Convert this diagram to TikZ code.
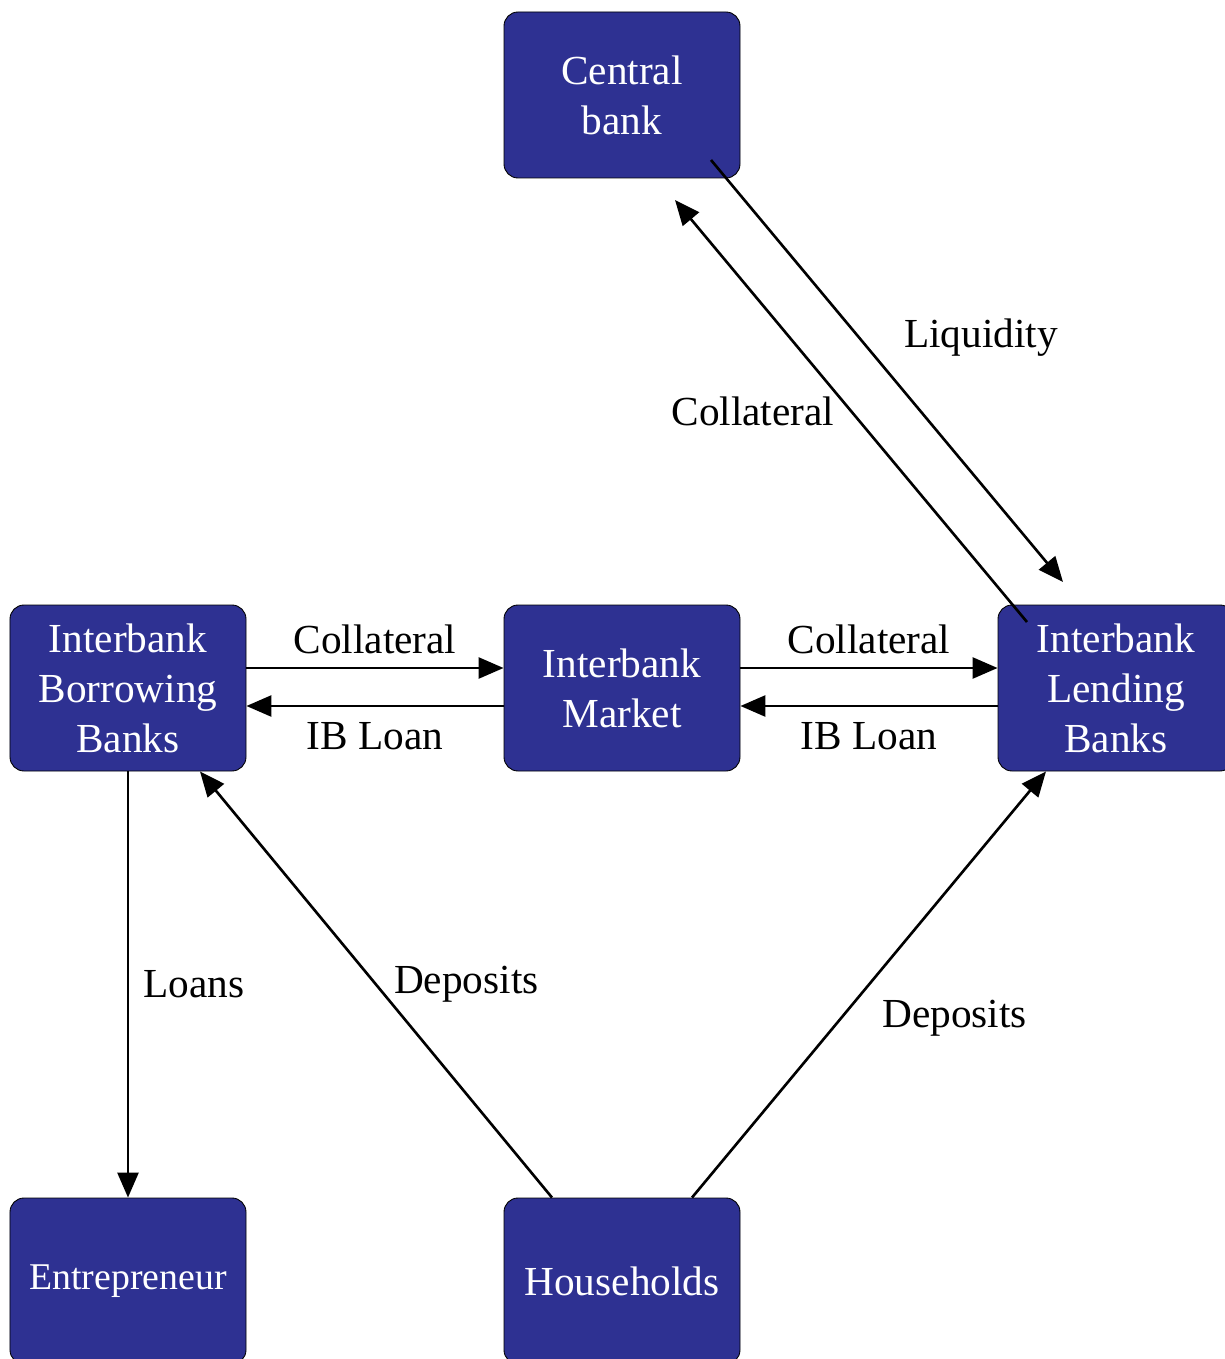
\documentclass[tikz,border=0pt]{standalone}
\usepackage{fontspec}
\setmainfont{Liberation Serif}
\usepackage{tikz}
\usetikzlibrary{arrows.meta}
\definecolor{bankblue}{RGB}{46,49,146}
\tikzset{
  >={Triangle[width=4.2mm,length=5mm]},
  % Specifications for style of nodes:
        agent/.style = {rectangle, rounded corners=0.28cm, draw=black,
                        line width=0.5pt, fill=bankblue, text=white,
                        minimum width=4.72cm, minimum height=3.32cm,
                        text centered, align=center},
         flow/.style = {->, line width=1.5pt},
}

\begin{document}
\begin{tikzpicture}[node distance=9.88cm,
      every node/.style={font=\fontsize{23.5pt}{28.5pt}\selectfont}]
    \useasboundingbox (-2.56,-13.42) rectangle (21.94,13.76);
    % Specification of nodes (position, etc.)
    \node (ibb)       [agent]                                {Interbank\\Borrowing\\Banks};
    \node (im)        [agent, right of=ibb]                  {Interbank\\Market};
    \node (ilb)       [agent, right of=im]                   {Interbank\\Lending\\Banks};
    \node (cb)        [agent, above of=im, yshift=1.98cm]    {Central\\bank};
    \node (ent)       [agent, below of=ibb, yshift=-1.98cm,
                       font=\fontsize{21.5pt}{26pt}\selectfont]
                                                             {Entrepreneur};
    \node (hh)        [agent, below of=im, yshift=-1.98cm]   {Households};

    % Specification of lines between nodes specified above
    % with aditional nodes for description
    \draw[flow]     ([shift={(1.78,-1.30)}]cb.center) -- node[pos=0.42, right=0.76cm]
                                                  {Liquidity} ([shift={(-1.06,2.12)}]ilb.center);
    \draw[flow]     ([shift={(-1.78,1.32)}]ilb.center) -- node[pos=0.5, left=0.19cm]
                                                  {Collateral} ([shift={(1.06,-2.10)}]cb.center);
    \draw[flow]     ([yshift=0.4cm]ibb.east) -- node[above=0.14cm] {Collateral} ([yshift=0.4cm]im.west);
    \draw[flow]     ([yshift=-0.36cm]im.west) -- node[below=0.18cm] {IB Loan} ([yshift=-0.36cm]ibb.east);
    \draw[flow]     ([yshift=0.4cm]im.east) -- node[above=0.14cm] {Collateral} ([yshift=0.4cm]ilb.west);
    \draw[flow]     ([yshift=-0.36cm]ilb.west) -- node[below=0.18cm] {IB Loan} ([yshift=-0.36cm]im.east);
    \draw[flow]     (ibb.south) -- node[right=0.16cm] {Loans} (ent.north);
    \draw[flow]     ([xshift=-1.4cm]hh.north) -- node[pos=0.5, right=0.22cm]
                                                  {Deposits} ([xshift=1.44cm]ibb.south);
    \draw[flow]     ([xshift=1.4cm]hh.north) -- node[pos=0.42, right=0.69cm]
                                                  {Deposits} ([xshift=-1.4cm]ilb.south);

  \end{tikzpicture}
\end{document}
